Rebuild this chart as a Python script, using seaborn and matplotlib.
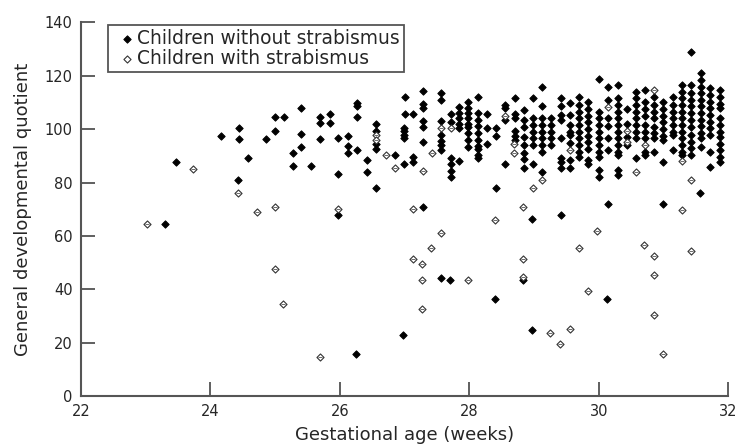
import numpy as np
import pandas as pd
import matplotlib
matplotlib.use("Agg")
import matplotlib.pyplot as plt
import seaborn as sns

# Children without strabismus (filled diamonds): gestational age (weeks), GDQ
no_strab_age = [
    23.30, 23.46, 24.16, 24.43, 24.44, 24.44, 24.58, 24.86, 25.00, 25.14, 25.00,
    25.27, 25.27, 25.40, 25.40, 25.40, 25.56, 25.70, 25.70, 25.84, 25.84, 25.70,
    25.97, 25.97, 25.97, 26.13, 26.13, 26.13, 26.27, 26.27, 26.27, 26.27, 26.42,
    26.42, 26.56, 26.56, 26.56, 26.56, 26.56, 26.85, 27.00, 27.00, 26.99, 26.99,
    26.99, 26.99, 26.99, 27.13, 27.13, 27.13, 27.28, 27.28, 27.28, 27.28, 27.28,
    27.28, 27.28, 27.56, 27.56, 27.56, 27.56, 27.56, 27.56, 27.56, 27.56, 27.71,
    27.71, 27.71, 27.71, 27.71, 27.71, 27.70, 27.84, 27.84, 27.84, 27.84, 27.84,
    27.84,
    26.98, 26.25, 28.40, 28.97, 28.83, 30.13, 28.97, 29.41, 30.14, 30.99, 31.57,
    28.41,
    27.98, 27.98, 27.98, 27.98, 27.98, 27.98, 27.98, 27.98, 27.98,
    28.13, 28.13, 28.13, 28.13, 28.13, 28.13, 28.13, 28.13, 28.13, 28.13,
    28.27, 28.27, 28.27,
    28.41, 28.41,
    28.55, 28.55, 28.55, 28.55,
    28.70, 28.70, 28.70, 28.70, 28.70, 28.70,
    28.84, 28.84, 28.84, 28.84, 28.84, 28.84, 28.84, 28.84,
    28.98, 28.98, 28.98, 28.98, 28.98, 28.98, 28.98,
    29.12, 29.12, 29.12, 29.12, 29.12, 29.12, 29.12, 29.12, 29.12,
    29.26, 29.26, 29.26, 29.26, 29.26,
    29.41, 29.41, 29.41, 29.41, 29.41, 29.41, 29.41, 29.41,
    29.55, 29.55, 29.55, 29.55, 29.55, 29.55, 29.55, 29.55,
    29.70, 29.70, 29.70, 29.70, 29.70, 29.70, 29.70, 29.70, 29.70, 29.70,
    29.84, 29.84, 29.84, 29.84, 29.84, 29.84, 29.84, 29.84, 29.84, 29.84,
    30.00, 30.00, 30.00, 30.00, 30.00, 30.00, 30.00, 30.00, 30.00, 30.00, 30.00,
    30.14, 30.14, 30.14, 30.14, 30.14, 30.14,
    30.29, 30.29, 30.29, 30.29, 30.29, 30.29, 30.29, 30.29, 30.29, 30.29, 30.29,
    30.29, 30.29,
    30.43, 30.43, 30.43, 30.43,
    30.58, 30.58, 30.58, 30.58, 30.58, 30.58, 30.58, 30.58, 30.58,
    30.72, 30.72, 30.72, 30.72, 30.72, 30.72, 30.72, 30.72, 30.72,
    30.86, 30.86, 30.86, 30.86, 30.86, 30.86, 30.86, 30.86,
    31.00, 31.00, 31.00, 31.00, 31.00, 31.00, 31.00, 31.00,
    31.15, 31.15, 31.15, 31.15, 31.15, 31.15, 31.15, 31.15,
    31.29, 31.29, 31.29, 31.29, 31.29, 31.29, 31.29, 31.29, 31.29, 31.29, 31.29,
    31.29,
    31.43, 31.43, 31.43, 31.43, 31.43, 31.43, 31.43, 31.43, 31.43, 31.43, 31.43,
    31.43,
    31.58, 31.58, 31.58, 31.58, 31.58, 31.58, 31.58, 31.58, 31.58, 31.58, 31.58,
    31.58,
    31.72, 31.72, 31.72, 31.72, 31.72, 31.72, 31.72, 31.72, 31.72, 31.72,
    31.87, 31.87, 31.87, 31.87, 31.87, 31.87, 31.87, 31.87, 31.87, 31.87, 31.87,
    31.87,
]
no_strab_gdq = [
    64.6, 87.7, 97.4, 80.9, 100.5, 96.4, 89.1, 96.4, 104.6, 104.6, 99.3,
    86.2, 91.1, 107.8, 98.1, 93.4, 86.1, 104.6, 102.4, 105.7, 102.4, 96.2,
    96.5, 83.1, 68.0, 97.6, 93.7, 91.0, 109.9, 108.7, 104.6, 92.0, 88.3,
    84.0, 101.8, 99.4, 94.6, 92.5, 78.1, 90.3, 111.9, 105.7, 100.5, 99.2,
    97.9, 96.5, 87.1, 105.7, 89.6, 87.8, 114.2, 109.3, 107.8, 103.0, 100.9,
    95.3, 70.9, 113.4, 110.9, 103.0, 97.8, 95.5, 94.0, 92.1, 44.4, 105.7,
    102.5, 89.3, 86.8, 84.3, 82.0, 43.4, 108.4, 106.0, 104.0, 102.0, 100.3,
    88.0,
    22.8, 15.6, 36.4, 24.6, 43.4, 36.5, 66.5, 67.8, 71.9, 71.9, 75.9,
    77.8,
    110.2, 108.0, 106.0, 104.0, 102.0, 100.9, 98.4, 95.9, 93.4,
    112.1, 105.9, 103.5, 101.0, 98.5, 96.0, 93.8, 92.7, 90.2, 89.0,
    105.7, 100.5, 94.3,
    100.5, 97.4,
    109.0, 107.8, 103.4, 87.1,
    111.7, 105.5, 104.2, 99.3, 97.5, 95.9,
    107.1, 103.4, 100.9, 97.1, 94.0, 91.0, 88.7, 85.3,
    111.7, 104.0, 101.5, 99.0, 96.5, 94.0, 87.1,
    115.6, 108.6, 104.0, 101.5, 99.0, 96.5, 94.0, 91.5, 84.0,
    104.0, 101.5, 99.0, 96.5, 94.0,
    111.7, 108.6, 105.2, 103.4, 96.5, 89.0, 87.7, 85.3,
    109.6, 105.2, 101.5, 99.0, 97.8, 94.7, 88.4, 85.3,
    112.1, 109.0, 106.5, 104.0, 101.5, 99.0, 96.5, 94.0, 91.5, 89.6,
    110.2, 107.7, 105.0, 102.5, 100.0, 97.5, 95.0, 92.5, 88.4, 87.1,
    118.8, 106.5, 104.0, 101.5, 99.0, 96.5, 94.0, 91.5, 89.6, 84.6, 82.1,
    115.6, 110.9, 104.0, 101.0, 96.5, 92.1,
    116.5, 111.5, 109.0, 106.5, 104.0, 101.5, 99.0, 96.5, 94.0, 91.5, 90.2,
    84.6, 82.8,
    107.5, 102.1, 97.0, 93.9,
    114.0, 111.5, 109.0, 106.5, 104.0, 101.5, 99.0, 96.5, 89.0,
    114.6, 110.2, 107.7, 105.0, 101.5, 99.0, 96.5, 91.5, 90.2,
    112.1, 109.0, 106.5, 104.0, 100.9, 98.4, 96.5, 91.5,
    110.2, 107.7, 105.0, 102.5, 100.0, 97.5, 95.9, 87.7,
    112.1, 109.0, 106.5, 104.0, 101.5, 99.0, 97.8, 92.1,
    116.5, 114.0, 111.5, 109.0, 106.5, 104.0, 101.5, 99.0, 96.5, 94.0, 91.5,
    90.2,
    128.8, 116.5, 113.4, 111.0, 108.5, 106.0, 103.5, 100.9, 97.8, 95.3, 92.8,
    90.2,
    120.9, 118.4, 115.9, 113.4, 111.0, 108.5, 106.0, 103.5, 101.0, 98.5, 96.5,
    93.4,
    115.3, 112.8, 110.3, 107.8, 105.3, 102.8, 100.3, 97.8, 91.5, 85.9,
    114.6, 112.0, 109.5, 107.8, 104.0, 101.5, 99.0, 97.1, 94.6, 92.0, 89.5,
    87.7,
]

# Children with strabismus (open diamonds)
strab_age = [
    23.02, 23.73, 24.43, 24.72, 24.99, 24.99, 25.12, 25.69, 25.97, 26.56, 26.56,
    26.71, 26.85, 27.13, 27.13, 27.27, 27.27, 27.27, 27.28, 27.41, 27.42, 27.56,
    27.56, 27.71, 27.98, 28.40, 28.55, 28.69, 28.69, 28.83, 28.83, 28.83, 28.98,
    29.12, 29.25, 29.40, 29.55, 29.55, 29.69, 29.84, 29.98, 30.14, 30.43, 30.43,
    30.57, 30.70, 30.72, 30.85, 30.85, 30.85, 30.86, 30.99, 31.29, 31.29, 31.43,
    31.43,
]
strab_gdq = [
    64.6, 85.0, 75.9, 68.8, 70.9, 47.6, 34.4, 14.6, 69.9, 97.8, 95.9,
    90.2, 85.5, 69.9, 51.5, 49.6, 43.4, 32.6, 84.3, 55.5, 91.1, 60.9,
    100.5, 100.5, 43.4, 65.9, 104.9, 94.3, 91.1, 70.9, 51.5, 44.6, 78.1,
    80.9, 23.6, 19.4, 25.3, 92.1, 55.5, 39.3, 61.8, 108.4, 99.3, 95.0,
    83.9, 56.4, 94.0, 52.4, 45.3, 30.5, 114.6, 15.6, 88.1, 69.6, 80.9,
    54.4,
]

label_no = "Children without strabismus"
label_yes = "Children with strabismus"

sns.set_style("ticks")
plt.rcParams['font.family'] = ['DejaVu Sans']

fig = plt.figure(figsize=(7.37, 4.47), dpi=100)
ax = fig.add_axes([0.110, 0.114, 0.878, 0.836])

df_no = pd.DataFrame({"age": no_strab_age, "gdq": no_strab_gdq})
df_yes = pd.DataFrame({"age": strab_age, "gdq": strab_gdq})

sns.scatterplot(data=df_no, x="age", y="gdq", ax=ax, marker="D", s=14,
                color="black", edgecolor="black", linewidth=0.7, label=label_no)
sns.scatterplot(data=df_yes, x="age", y="gdq", ax=ax, marker="D", s=13,
                facecolor="white", edgecolor="#333333", linewidth=0.8,
                label=label_yes)
# little bar inside the open diamonds
ax.scatter(df_yes["age"], df_yes["gdq"], marker="_", s=6, color="#555555",
           linewidth=0.6, zorder=3)

ax.set_xlim(22, 32)
ax.set_ylim(0, 140)
ax.set_xticks(np.arange(22, 33, 2))
ax.set_yticks(np.arange(0, 141, 20))
ax.set_xlabel("Gestational age (weeks)", fontsize=13, labelpad=5)
ax.set_ylabel("General developmental quotient", fontsize=13, labelpad=9)

ax.tick_params(direction="in", length=10, width=1.2, color="#444444",
               labelsize=10.5, pad=6)
for side in ["top", "right"]:
    ax.spines[side].set_visible(False)
for side in ["left", "bottom"]:
    ax.spines[side].set_color("#555555")
    ax.spines[side].set_linewidth(1.5)

leg = ax.legend(loc="upper left", bbox_to_anchor=(0.042, 0.993),
                borderaxespad=0, fontsize=13.4, frameon=True, fancybox=False,
                framealpha=1, handletextpad=-0.24, handlelength=1.56,
                borderpad=0.22, labelspacing=0.07, markerscale=1.0)
leg.get_frame().set_edgecolor("#555555")
leg.get_frame().set_linewidth(1.3)

fig.savefig("out.png", dpi=100)
